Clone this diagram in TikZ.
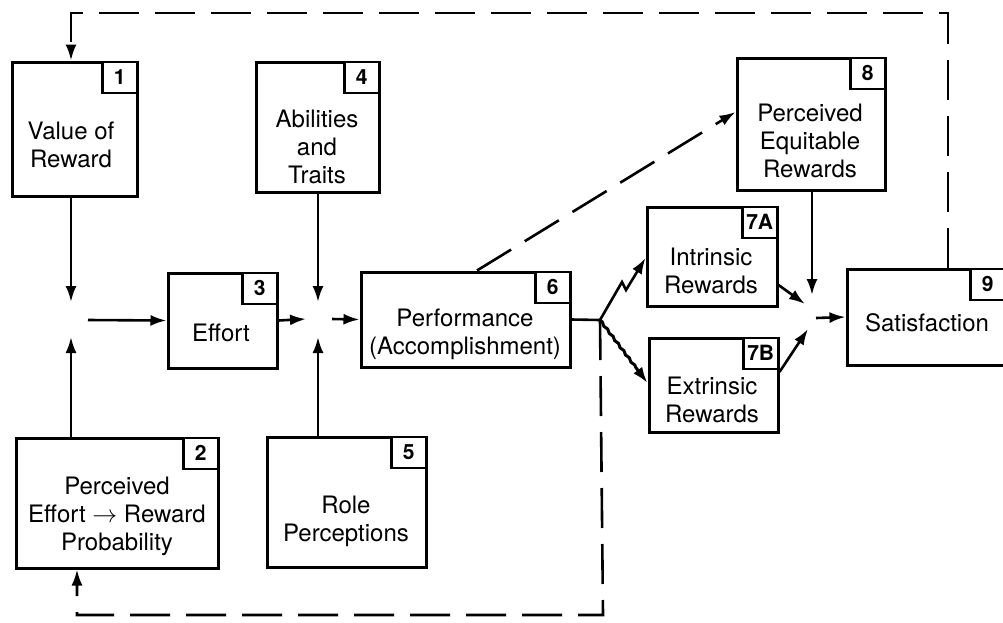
\documentclass[tikz,border=0pt]{standalone}
\usepackage{fontspec}
\setmainfont{TeX Gyre Heros}
\usetikzlibrary{arrows.meta, decorations.pathmorphing}

\tikzset{
  box/.style={draw, line width=3pt, rectangle, inner sep=0pt},
  num/.style={draw, fill=white, line width=2.6pt, minimum width=35pt, minimum height=31pt,
    inner sep=0pt, anchor=north east, font=\fontsize{21}{21}\selectfont\bfseries},
  txt/.style={align=center, inner sep=0pt, font=\fontsize{24}{28}\selectfont},
  arr/.style={line width=2.6pt, -{Latex[length=16pt,width=11pt]}},
  feed/.style={arr, dash pattern=on 40pt off 16pt},
}

\begin{document}
\begin{tikzpicture}[x=1pt, y=-1pt]
  \useasboundingbox (0,0) rectangle (1003,622);

  % Boxes
  \node[box, minimum width=125, minimum height=134] (b1) at (74.5,129) {};
  \node[box, minimum width=202, minimum height=130] (b2) at (117,503) {};
  \node[box, minimum width=109, minimum height=95] (b3) at (222.5,320.5) {};
  \node[box, minimum width=123, minimum height=130] (b4) at (317.5,127) {};
  \node[box, minimum width=159, minimum height=130] (b5) at (346.5,502) {};
  \node[box, minimum width=209, minimum height=95] (b6) at (465.5,319.5) {};
  \node[box, minimum width=130, minimum height=99] (b7a) at (712,256.5) {};
  \node[box, minimum width=129, minimum height=94] (b7b) at (713.5,385) {};
  \node[box, minimum width=148, minimum height=132] (b8) at (811,124) {};
  \node[box, minimum width=158, minimum height=96] (b9) at (926,317) {};

  % Numbers
  \node[num] (n1) at (b1.north east) {1};
  \node[num] (n2) at (b2.north east) {2};
  \node[num] (n3) at (b3.north east) {3};
  \node[num] (n4) at (b4.north east) {4};
  \node[num] (n5) at (b5.north east) {5};
  \node[num] (n6) at (b6.north east) {6};
  \node[num] (n7a) at (b7a.north east) {7A};
  \node[num] (n7b) at (b7b.north east) {7B};
  \node[num] (n8) at (b8.north east) {8};
  \node[num] (n9) at (b9.north east) {9};

  % Texts
  \node[txt] (t1) at (71,145) {Value of\\Reward};
  \node[txt] (t2) at (117,516) {Perceived\\Effort $\rightarrow$ Reward\\Probability};
  \node[txt] (t3) at (221,333) {Effort};
  \node[txt] (t4) at (317,147) {Abilities\\and\\Traits};
  \node[txt] (t5) at (346,521) {Role\\Perceptions};
  \node[txt] (t6) at (465,334) {Performance\\(Accomplishment)};
  \node[txt] (t7a) at (711,271) {Intrinsic\\Rewards};
  \node[txt] (t7b) at (712,400) {Extrinsic\\Rewards};
  \node[txt] (t8) at (810,141) {Perceived\\Equitable\\Rewards};
  \node[txt] (t9) at (927,323) {Satisfaction};

  % Junctions
  \coordinate (j1) at (71,320);
  \coordinate (j2) at (318,319);
  \coordinate (j3) at (812,318);
  \coordinate (br) at (600,320);

  % Edges into first junction
  \draw[arr] (b1.south -| j1) -- ([yshift=18pt]j1);
  \draw[arr] (b2.north -| j1) -- ([yshift=-17pt]j1);
  \draw[arr] ([xshift=17pt]j1) -- (b3.west);

  % Edges into second junction
  \draw[arr] (b3.east) -- ([xshift=-12pt]j2);
  \draw[arr] (b4.south -| j2) -- ([yshift=17pt]j2);
  \draw[arr] (b5.north -| j2) -- ([yshift=-18pt]j2);
  \draw[arr] ([xshift=14pt]j2) -- (b6.west);

  % Rewards
  \draw[line width=2.6pt] (b6.east) -- (br);
  \draw[arr] (br) -- (622,282) -- (626,290) -- (b7a.west |- 0,258);
  \draw[arr, line width=3pt, decorate, decoration={snake, amplitude=0.7pt, segment length=9pt,
    post length=16pt}] (br) -- (b7b.west |- 0,383);

  % Edges into third junction
  \draw[arr] (b8.south -| j3) -- ([yshift=23pt]j3);
  \draw[arr] (b7a.east |- 0,285) -- (805,304);
  \draw[arr] (b7b.east |- 0,372) -- (808,329);
  \draw[arr] ([xshift=4pt]j3) -- (b9.west);

  % Feedback (dashed)
  \draw[feed] (b6.north -| 477,0) -- (b8.west |- 0,112);
  \draw[feed] (b9.north -| 948,0) -- (948,13) -- (71,13) -- (b1.north -| j1);
  \draw[feed] (br) -- (603,615) -- (77,615) -- (b2.south -| 77,0);
\end{tikzpicture}
\end{document}
